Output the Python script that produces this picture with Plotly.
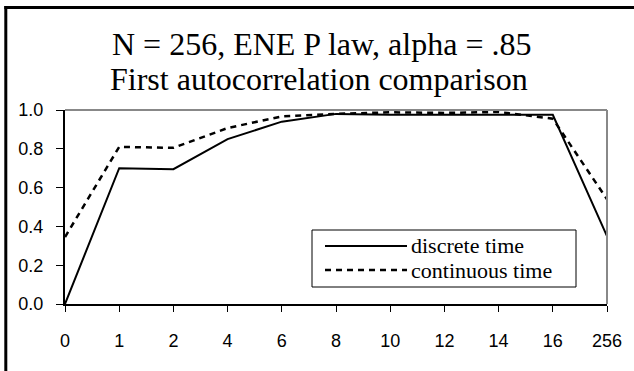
import plotly.graph_objects as go

categories = ["0", "1", "2", "4", "6", "8", "10", "12", "14", "16", "256"]
discrete_time = [0.0, 0.70, 0.695, 0.85, 0.94, 0.98, 0.975, 0.975, 0.975, 0.975, 0.35]
continuous_time = [0.345, 0.81, 0.805, 0.907, 0.967, 0.98, 0.988, 0.985, 0.99, 0.955, 0.54]
y_ticks = [0.0, 0.2, 0.4, 0.6, 0.8, 1.0]
title_lines = ["N = 256, ENE P law, alpha = .85", "First autocorrelation comparison"]
series_names = ["discrete time", "continuous time"]

W, H = 634, 371
L, R, T, B = 65, 27, 110, 67
pw, ph = W - L - R, H - T - B

def px(x):
    return (x - L) / pw

def py(y):
    return (H - B - y) / ph

idx = list(range(len(categories)))

fig = go.Figure()
fig.add_trace(go.Scatter(x=idx, y=discrete_time, mode="lines", name=series_names[0],
                         line=dict(color="black", width=2), showlegend=False))
fig.add_trace(go.Scatter(x=idx, y=continuous_time, mode="lines", name=series_names[1],
                         line=dict(color="black", width=2.5, dash="6px,5px"), showlegend=False))

shapes = []
# outer chart border (left and top edges; right/bottom fall outside the picture)
shapes.append(dict(type="line", xref="paper", yref="paper", x0=px(5.8), x1=px(5.8), y0=py(371), y1=py(6),
                   line=dict(color="black", width=3), layer="above"))
shapes.append(dict(type="line", xref="paper", yref="paper", x0=px(4.3), x1=px(634), y0=py(7.5), y1=py(7.5),
                   line=dict(color="black", width=3), layer="above"))
# gray top/right plot border
shapes.append(dict(type="line", xref="paper", yref="paper", x0=0, x1=1, y0=1, y1=1, line=dict(color="#888888", width=2)))
shapes.append(dict(type="line", xref="paper", yref="paper", x0=1, x1=1, y0=0, y1=1, line=dict(color="#888888", width=2)))
# legend box
shapes.append(dict(type="rect", xref="paper", yref="paper", x0=px(312), x1=px(576), y0=py(287), y1=py(230),
                   line=dict(color="black", width=1), fillcolor="white", layer="above"))
shapes.append(dict(type="line", xref="paper", yref="paper", x0=px(325), x1=px(407), y0=py(246), y1=py(246),
                   line=dict(color="black", width=2), layer="above"))
shapes.append(dict(type="line", xref="paper", yref="paper", x0=px(325), x1=px(407), y0=py(270), y1=py(270),
                   line=dict(color="black", width=2.5, dash="6px,5px"), layer="above"))

serif = "Liberation Serif"
annotations = [
    dict(text=series_names[0], xref="paper", yref="paper", x=px(409), y=py(245.5), xanchor="left", yanchor="middle",
         showarrow=False, font=dict(family=serif, size=22, color="black")),
    dict(text=series_names[1], xref="paper", yref="paper", x=px(409), y=py(270.5), xanchor="left", yanchor="middle",
         showarrow=False, font=dict(family=serif, size=22, color="black")),
    dict(text=title_lines[0], xref="paper", yref="paper", x=px(321), y=py(44), xanchor="center", yanchor="middle",
         showarrow=False, font=dict(family=serif, size=32, color="black")),
    dict(text=title_lines[1], xref="paper", yref="paper", x=px(319), y=py(79), xanchor="center", yanchor="middle",
         showarrow=False, font=dict(family=serif, size=32, color="black")),
]

common_x = dict(range=[0, len(categories) - 1], tickmode="array", tickvals=idx,
                showgrid=False, zeroline=False, ticklen=6, tickwidth=1, tickcolor="black")
common_y = dict(range=[0, 1], tickmode="array", tickvals=y_ticks,
                showgrid=False, zeroline=False, ticklen=7, tickwidth=1, tickcolor="black")

fig.update_layout(
    width=W, height=H,
    margin=dict(l=L, r=R, t=T, b=B, pad=0),
    paper_bgcolor="white", plot_bgcolor="white",
    showlegend=False,
    shapes=shapes, annotations=annotations,
    font=dict(family="Liberation Sans", size=18, color="black"),
    xaxis=dict(**common_x, ticktext=categories, showline=True, linecolor="black", linewidth=2,
               ticks="outside", ticklabelstandoff=13, tickfont=dict(family="Liberation Sans", size=18)),
    yaxis=dict(**common_y, ticktext=[f"{v:.1f}" for v in y_ticks], showline=True, linecolor="black", linewidth=2,
               ticks="outside", ticklabelstandoff=9, tickfont=dict(family="Liberation Sans", size=18)),
    xaxis2=dict(**common_x, overlaying="x", anchor="y", side="bottom", ticks="inside", showticklabels=False,
                showline=False),
    yaxis2=dict(**common_y, overlaying="y", anchor="x", side="left", ticks="inside", showticklabels=False,
                showline=False),
)

fig.write_html("out.html", config={"displayModeBar": False},
               post_script="document.documentElement.style.overflow='hidden';document.body.style.margin='0';document.body.style.overflow='hidden';")
